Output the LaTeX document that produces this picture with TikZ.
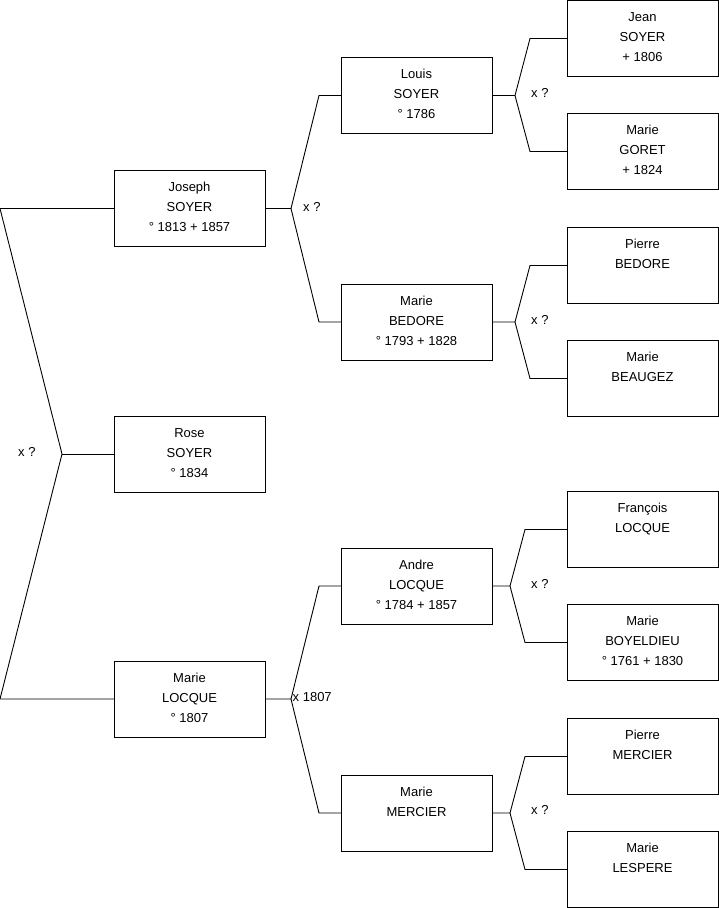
\documentclass[tikz,border=0pt]{standalone}
\usepackage{fontspec}
\setmainfont{Liberation Sans}
\usetikzlibrary{calc}
\newcommand\pp[1]{\parbox[t]{151pt}{\centering #1}}
\tikzset{
  pbox/.style={draw=black, line width=0.9pt, inner sep=0pt, outer sep=0pt,
    text height=21pt, text depth=55pt, anchor=north west,
    font=\fontsize{13}{20}\selectfont},
  conn/.style={draw=black, line width=0.9pt},
  mlab/.style={anchor=west, inner sep=0pt, font=\fontsize{13}{16}\selectfont}
}
\begin{document}
\begin{tikzpicture}[x=1pt,y=-1pt]
\useasboundingbox (0,0) rectangle (719,908);
% generation 1
\node[pbox] (jos) at (114,170.5) {\pp{Joseph\\SOYER\\° 1813 + 1857}};
\node[pbox] (ros) at (114,416)   {\pp{Rose\\SOYER\\° 1834}};
\node[pbox] (loc) at (114,661)   {\pp{Marie\\LOCQUE\\° 1807}};
% generation 2
\node[pbox] (lou) at (341,57.5) {\pp{Louis\\SOYER\\° 1786}};
\node[pbox] (bed) at (341,284)  {\pp{Marie\\BEDORE\\° 1793 + 1828}};
\node[pbox] (and) at (341,548)  {\pp{Andre\\LOCQUE\\° 1784 + 1857}};
\node[pbox] (mer) at (341,775)  {\pp{Marie\\MERCIER}};
% generation 3
\node[pbox] (jea) at (567,0.5)   {\pp{Jean\\SOYER\\+ 1806}};
\node[pbox] (gor) at (567,113.5) {\pp{Marie\\GORET\\+ 1824}};
\node[pbox] (pbe) at (567,227.5) {\pp{Pierre\\BEDORE}};
\node[pbox] (bea) at (567,340.5) {\pp{Marie\\BEAUGEZ}};
\node[pbox] (fra) at (567,491.5) {\pp{François\\LOCQUE}};
\node[pbox] (boy) at (567,604.5) {\pp{Marie\\BOYELDIEU\\° 1761 + 1830}};
\node[pbox] (pme) at (567,718.5) {\pp{Pierre\\MERCIER}};
\node[pbox] (les) at (567,831.5) {\pp{Marie\\LESPERE}};
% left fork (parents of Rose)
\coordinate (L1) at (0,208.5);
\coordinate (Lv) at (62,454);
\coordinate (L2) at (0,699);
\draw[conn] (jos.west) -- (L1) -- (Lv) -- (L2) -- (loc.west);
\draw[conn] (Lv) -- (ros.west);
\node[mlab] (lx) at (18,452) {x ?};
% Joseph's parents
\draw[conn] (jos.east) -- ++(26,0) coordinate (Jv) -- ($(lou.west)+(-22,0)$) -- (lou.west);
\draw[conn] (Jv) -- ($(bed.west)+(-22,0)$) -- (bed.west);
\node[mlab] (jx) at (303,207) {x ?};
% Marie LOCQUE's parents
\draw[conn] (loc.east) -- ++(26,0) coordinate (Mv) -- ($(and.west)+(-22,0)$) -- (and.west);
\draw[conn] (Mv) -- ($(mer.west)+(-22,0)$) -- (mer.west);
\node[mlab] (mx) at (292.5,697.5) {x 1807};
% Louis's parents
\draw[conn] (lou.east) -- ++(23,0) coordinate (Uv) -- ($(jea.west)+(-37,0)$) -- (jea.west);
\draw[conn] (Uv) -- ($(gor.west)+(-37,0)$) -- (gor.west);
\node[mlab] (ux) at (531,93) {x ?};
% Marie BEDORE's parents
\draw[conn] (bed.east) -- ++(23,0) coordinate (Bv) -- ($(pbe.west)+(-37,0)$) -- (pbe.west);
\draw[conn] (Bv) -- ($(bea.west)+(-37,0)$) -- (bea.west);
\node[mlab] (bx) at (531,320) {x ?};
% Andre's parents
\draw[conn] (and.east) -- ++(18,0) coordinate (Av) -- ($(fra.west)+(-42,0)$) -- (fra.west);
\draw[conn] (Av) -- ($(boy.west)+(-42,0)$) -- (boy.west);
\node[mlab] (ax) at (531,584) {x ?};
% Marie MERCIER's parents
\draw[conn] (mer.east) -- ++(18,0) coordinate (Rv) -- ($(pme.west)+(-42,0)$) -- (pme.west);
\draw[conn] (Rv) -- ($(les.west)+(-42,0)$) -- (les.west);
\node[mlab] (rx) at (531,810) {x ?};
\end{tikzpicture}
\end{document}
